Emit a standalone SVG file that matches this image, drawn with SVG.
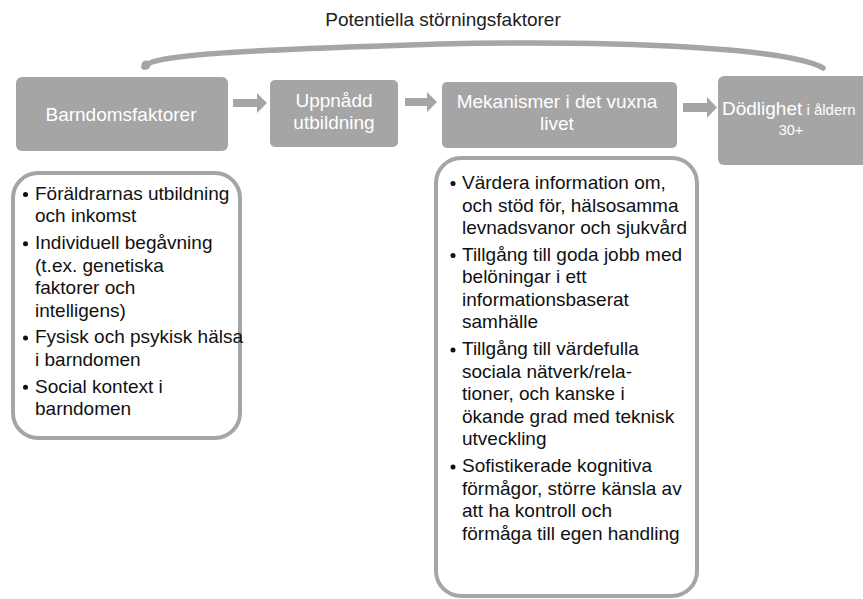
<svg xmlns="http://www.w3.org/2000/svg" width="863" height="599" viewBox="0 0 863 599">
<style>
.box{fill:#a5a5a5;}
.bt{font-family:"Liberation Sans",Arial,sans-serif;font-size:19px;fill:#ffffff;text-anchor:middle;}
.lt{font-family:"Liberation Sans",Arial,sans-serif;font-size:19px;fill:#111111;}
.list{fill:#ffffff;stroke:#a5a5a5;stroke-width:4;}
.arr{fill:#a5a5a5;}
.bul{fill:#111111;}
</style>
<rect width="863" height="599" fill="#ffffff"/>
<text x="443" y="26" font-family="Liberation Sans, Arial, sans-serif" font-size="19" fill="#222222" text-anchor="middle">Potentiella störningsfaktorer</text>
<g id="connectors">
<path d="M144,67 C152,54 250,50 440,44 C620,40 790,48 823,68" fill="none" stroke="#a5a5a5" stroke-width="5.5" stroke-linecap="round"/>
<circle cx="146" cy="65" r="4.5" fill="#a5a5a5"/>
<polygon class="arr" points="233,99 257,99 257,93 267,103 257,113 257,107 233,107"/>
<polygon class="arr" points="405,98 427,98 427,92 437,102 427,112 427,106 405,106"/>
<polygon class="arr" points="683,103 707,103 707,97 717,107.5 707,118 707,112 683,112"/>
</g>
<g id="barndomsfaktorer">
<rect class="box" x="16" y="77" width="212" height="74" rx="6"/>
<text class="bt" x="121" y="121">Barndomsfaktorer</text>
</g>
<g id="utbildning">
<rect class="box" x="270" y="80" width="128" height="67" rx="5"/>
<text class="bt" x="334" y="107">Uppnådd</text>
<text class="bt" x="334" y="129">utbildning</text>
</g>
<g id="mekanismer">
<rect class="box" x="442" y="82" width="235" height="66" rx="5"/>
<text class="bt" x="557" y="108">Mekanismer i det vuxna</text>
<text class="bt" x="557" y="130">livet</text>
</g>
<g id="dodlighet">
<rect class="box" x="718" y="76" width="152" height="89" rx="6"/>
<text x="722" y="115" font-family="Liberation Sans, Arial, sans-serif" font-size="19" fill="#ffffff">Dödlighet<tspan font-size="15"> i åldern</tspan></text>
<text x="791" y="135" font-family="Liberation Sans, Arial, sans-serif" font-size="14.5" fill="#ffffff" text-anchor="middle">30+</text>
</g>
<g id="barndom-lista">
<rect class="list" x="13" y="173" width="227" height="265" rx="25"/>
<circle class="bul" cx="25.5" cy="194.5" r="2.5"/>
<circle class="bul" cx="25.5" cy="243.8" r="2.5"/>
<circle class="bul" cx="25.5" cy="337.9" r="2.5"/>
<circle class="bul" cx="25.5" cy="387.2" r="2.5"/>
<text class="lt" x="35" y="200">Föräldrarnas utbildning</text>
<text class="lt" x="35" y="222.4">och inkomst</text>
<text class="lt" x="35" y="249.3">Individuell begåvning</text>
<text class="lt" x="35" y="271.7">(t.ex. genetiska</text>
<text class="lt" x="35" y="294.1">faktorer och</text>
<text class="lt" x="35" y="316.5">intelligens)</text>
<text class="lt" x="35" y="343.4">Fysisk och psykisk hälsa</text>
<text class="lt" x="35" y="365.8">i barndomen</text>
<text class="lt" x="35" y="392.7">Social kontext i</text>
<text class="lt" x="35" y="415.1">barndomen</text>
</g>
<g id="mekanismer-lista">
<rect class="list" x="436" y="158" width="261" height="438" rx="25"/>
<circle class="bul" cx="453" cy="183.5" r="2.5"/>
<circle class="bul" cx="453" cy="255.4" r="2.5"/>
<circle class="bul" cx="453" cy="349.9" r="2.5"/>
<circle class="bul" cx="453" cy="466.9" r="2.5"/>
<text class="lt" x="462" y="189">Värdera information om,</text>
<text class="lt" x="462" y="211.5">och stöd för, hälsosamma</text>
<text class="lt" x="462" y="234">levnadsvanor och sjukvård</text>
<text class="lt" x="462" y="260.9">Tillgång till goda jobb med</text>
<text class="lt" x="462" y="283.4">belöningar i ett</text>
<text class="lt" x="462" y="305.9">informationsbaserat</text>
<text class="lt" x="462" y="328.4">samhälle</text>
<text class="lt" x="462" y="355.4">Tillgång till värdefulla</text>
<text class="lt" x="462" y="377.9">sociala nätverk/rela-</text>
<text class="lt" x="462" y="400.4">tioner, och kanske i</text>
<text class="lt" x="462" y="422.9">ökande grad med teknisk</text>
<text class="lt" x="462" y="445.4">utveckling</text>
<text class="lt" x="462" y="472.4">Sofistikerade kognitiva</text>
<text class="lt" x="462" y="494.9">förmågor, större känsla av</text>
<text class="lt" x="462" y="517.4">att ha kontroll och</text>
<text class="lt" x="462" y="539.9">förmåga till egen handling</text>
</g>
</svg>
